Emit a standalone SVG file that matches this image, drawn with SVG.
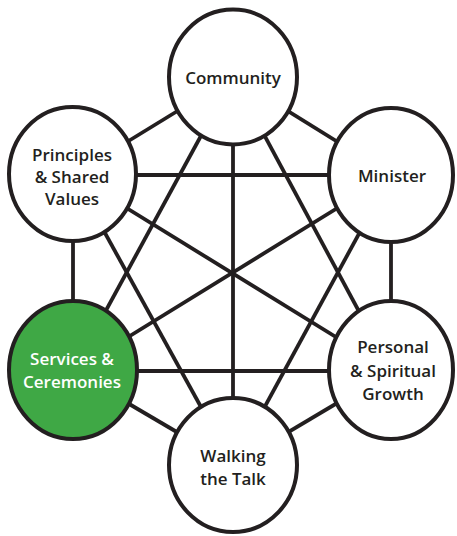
<svg xmlns="http://www.w3.org/2000/svg" width="457" height="536" viewBox="0 0 457 536">
<style>
.edge{stroke:#231f20;stroke-width:3.8;fill:none}
.node{stroke:#231f20;stroke-width:4;fill:#fff}
.green{fill:#3fa845}
text{font-family:"Open Sans","Liberation Sans",sans-serif;font-weight:600;font-size:17px;fill:#231f20;text-anchor:middle}
.w{fill:#fff}
</style>
<rect width="457" height="536" fill="#fff"/>
<g id="connectors">
<line class="edge" x1="233" y1="77" x2="73" y2="175"/>
<line class="edge" x1="233" y1="77" x2="391" y2="175"/>
<line class="edge" x1="233" y1="77" x2="73" y2="371"/>
<line class="edge" x1="233" y1="77" x2="391" y2="371"/>
<line class="edge" x1="233" y1="77" x2="233" y2="465"/>
<line class="edge" x1="73" y1="175" x2="391" y2="175"/>
<line class="edge" x1="73" y1="175" x2="73" y2="371"/>
<line class="edge" x1="73" y1="175" x2="391" y2="371"/>
<line class="edge" x1="73" y1="175" x2="233" y2="465"/>
<line class="edge" x1="391" y1="175" x2="73" y2="371"/>
<line class="edge" x1="391" y1="175" x2="391" y2="371"/>
<line class="edge" x1="391" y1="175" x2="233" y2="465"/>
<line class="edge" x1="73" y1="371" x2="391" y2="371"/>
<line class="edge" x1="73" y1="371" x2="233" y2="465"/>
<line class="edge" x1="391" y1="371" x2="233" y2="465"/>
</g>
<g id="community">
<ellipse class="node" cx="233" cy="77" rx="64" ry="67.5"/>
<text x="233" y="84">Community</text>
</g>
<g id="principles">
<ellipse class="node" cx="72.5" cy="174" rx="63.5" ry="67"/>
<text x="72" y="161">Principles</text>
<text x="72" y="183">&amp; Shared</text>
<text x="72" y="205">Values</text>
</g>
<g id="minister">
<ellipse class="node" cx="391" cy="175" rx="62" ry="67"/>
<text x="392" y="182">Minister</text>
</g>
<g id="services">
<ellipse class="node green" cx="73" cy="370" rx="64" ry="69"/>
<text class="w" x="72" y="365">Services &amp;</text>
<text class="w" x="72" y="388">Ceremonies</text>
</g>
<g id="personal">
<ellipse class="node" cx="391" cy="370" rx="62" ry="69"/>
<text x="393" y="353">Personal</text>
<text x="393" y="377">&amp; Spiritual</text>
<text x="393" y="400">Growth</text>
</g>
<g id="walking">
<ellipse class="node" cx="233" cy="465" rx="64" ry="67"/>
<text x="233" y="462">Walking</text>
<text x="233" y="485">the Talk</text>
</g>
</svg>
